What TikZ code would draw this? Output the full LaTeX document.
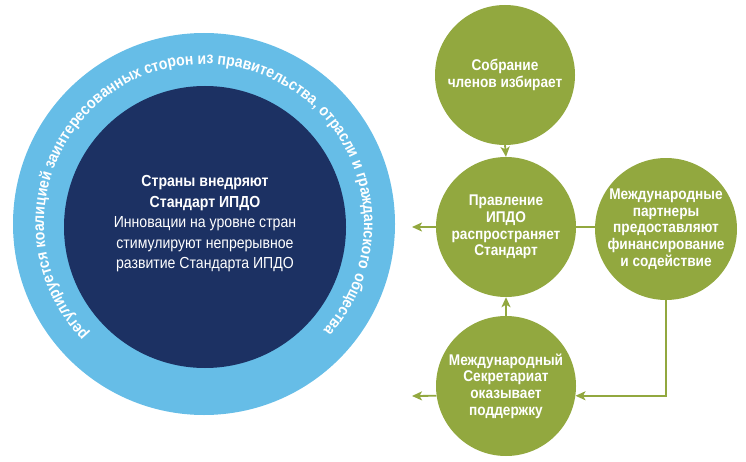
\documentclass[tikz,border=0pt]{standalone}
\usepackage{fontspec}
\setmainfont{Liberation Sans}
\newfontfamily\condfont[FakeStretch=0.88]{Liberation Sans}
\usetikzlibrary{decorations.text,arrows.meta}
\definecolor{eitigreen}{HTML}{92A83F}
\definecolor{ringblue}{HTML}{66BDE7}
\definecolor{navyblue}{HTML}{1C3163}
\newcommand{\ringfont}{\condfont\bfseries\fontsize{16}{18}\selectfont}
\newcommand{\ctrfont}{\condfont\fontsize{16}{20.5}\selectfont}
\newcommand{\gfont}{\condfont\bfseries\fontsize{15.5}{16.7}\selectfont}
\tikzset{
  gcirc/.style={circle, fill=eitigreen, minimum size=140pt, inner sep=0pt,
    text=white, align=center, font=\gfont},
  ctrtext/.style={text=white, align=center, font=\ctrfont},
  conn/.style={draw=eitigreen, line width=1.8pt, -{Stealth[length=10pt,width=9pt,inset=2.5pt]}},
  plainline/.style={draw=eitigreen, line width=1.8pt},
}
\begin{document}
\begin{tikzpicture}[x=1pt,y=1pt]
\useasboundingbox (0,0) rectangle (746,461);
\node[circle, fill=ringblue, minimum size=382pt, inner sep=0pt] (ring) at (204,237) {};
\node[circle, fill=navyblue, minimum size=282pt, inner sep=0pt] (core) at (205,234) {};
\node[ctrtext] (ctr) at (205,237) {\textbf{Страны внедряют}\\\textbf{Стандарт ИПДО}\\Инновации на уровне стран\\стимулируют непрерывное\\развитие Стандарта ИПДО};
\path[decorate, decoration={text along path, text align=center, text color=white,
  text={|\ringfont|регулируется коалицией заинтересованных сторон из правительства, отрасли и гражданского общества}}]
  (ring.center) ++(241:160pt) arc[start angle=241, end angle=-59, radius=160pt];
\node[gcirc] (top) at (505,386) {Собрание\\членов избирает};
\node[gcirc] (mid) at (506,234) {Правление\\ИПДО\\распространяет\\Стандарт};
\node[gcirc] (right) at (666,232) {Международные\\партнеры\\предоставляют\\финансирование\\и содействие};
\node[gcirc] (bot) at (506,75) {Международный\\Секретариат\\оказывает\\поддержку};
\coordinate (midout) at (412,234);
\coordinate (botout) at (412,65);
\draw[conn] (top.south) -- (mid.north);
\draw[conn] (bot.north) -- (mid.south);
\draw[conn] (mid.west) -- (midout);
\draw[conn] (bot.188) -- (botout);
\draw[plainline] (mid.east) -- (mid.east -| right.west);
\draw[conn] (right.south) |- (bot.-8);
\end{tikzpicture}
\end{document}
